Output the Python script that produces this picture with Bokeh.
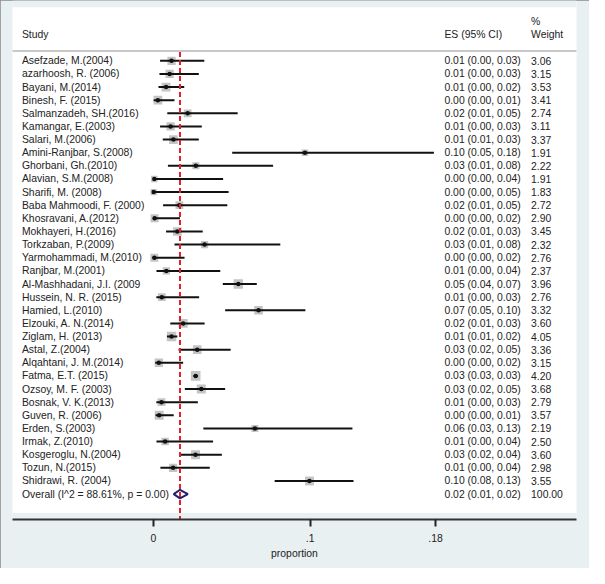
import numpy as np
from bokeh.plotting import figure
from bokeh.models import ColumnDataSource, Range1d, FixedTicker
from bokeh.core.properties import value
from bokeh.embed import file_html
from bokeh.resources import INLINE

# ---------------- data ----------------
studies = [
    "Asefzade, M.(2004)", "azarhoosh, R. (2006)", "Bayani, M.(2014)", "Binesh, F. (2015)",
    "Salmanzadeh, SH.(2016)", "Kamangar, E.(2003)", "Salari, M.(2006)", "Amini-Ranjbar, S.(2008)",
    "Ghorbani, Gh.(2010)", "Alavian, S.M.(2008)", "Sharifi, M. (2008)", "Baba Mahmoodi, F. (2000)",
    "Khosravani, A.(2012)", "Mokhayeri, H.(2016)", "Torkzaban, P.(2009)", "Yarmohammadi, M.(2010)",
    "Ranjbar, M.(2001)", "Al-Mashhadani, J.I. (2009", "Hussein, N. R. (2015)", "Hamied, L.(2010)",
    "Elzouki, A. N.(2014)", "Ziglam, H. (2013)", "Astal, Z.(2004)", "Alqahtani, J. M.(2014)",
    "Fatma, E.T. (2015)", "Ozsoy, M. F. (2003)", "Bosnak, V. K.(2013)", "Guven, R. (2006)",
    "Erden, S.(2003)", "Irmak, Z.(2010)", "Kosgeroglu, N.(2004)", "Tozun, N.(2015)",
    "Shidrawi, R. (2004)",
]
es = [0.0116, 0.0104, 0.0081, 0.0029, 0.0219, 0.0110, 0.0128, 0.0967, 0.0271, 0.0006,
      0.0002, 0.0166, 0.0008, 0.0153, 0.0327, 0.0006, 0.0083, 0.0542, 0.0054, 0.0671,
      0.0190, 0.0116, 0.0280, 0.0035, 0.0270, 0.0306, 0.0052, 0.0037, 0.0648, 0.0075,
      0.0269, 0.0126, 0.0996]
ci_low = [0.0043, 0.0039, 0.0033, 0.0002, 0.0089, 0.0043, 0.0060, 0.0503, 0.0093, 0.0,
          0.0, 0.0062, 0.0, 0.0081, 0.0135, 0.0, 0.0020, 0.0443, 0.0019, 0.0458,
          0.0108, 0.0087, 0.0161, 0.0012, 0.0255, 0.0201, 0.0019, 0.0014, 0.0319, 0.0020,
          0.0176, 0.0045, 0.0774]
ci_high = [0.0325, 0.0290, 0.0197, 0.0135, 0.0538, 0.0309, 0.0290, 0.1790, 0.0764, 0.0445,
           0.0480, 0.0472, 0.0170, 0.0315, 0.0810, 0.0199, 0.0427, 0.0660, 0.0292, 0.0970,
           0.0327, 0.0153, 0.0493, 0.0190, 0.0285, 0.0458, 0.0284, 0.0130, 0.1270, 0.0381,
           0.0437, 0.0360, 0.1277]
weight = [3.06, 3.15, 3.53, 3.41, 2.74, 3.11, 3.37, 1.91, 2.22, 1.91, 1.83, 2.72, 2.90,
          3.45, 2.32, 2.76, 2.37, 3.96, 2.76, 3.32, 3.60, 4.05, 3.36, 3.15, 4.20, 3.68,
          2.79, 3.57, 2.19, 2.50, 3.60, 2.98, 3.55]
overall_es = 0.017
overall_low = 0.013
overall_high = 0.022
overall_weight = 100.00
i_squared = 88.61
p_het = 0.00
tick_values = [0, 0.1, 0.18]
tick_labels = ["0", ".1", ".18"]
x_title = "proportion"

# ---------------- geometry (reference pixels scaled to the figure) ----------------
W, H = 589, 568
SX, SY = W / 605.0, H / 584.0
B_LEFT = 12
B_RIGHT = 13
B_TOP = 0
B_BOTTOM = 49
FW = W - B_LEFT - B_RIGHT
FH = H - B_TOP - B_BOTTOM
PX_PER_UNIT = (318 - 157) / 0.1 * SX
ZERO_PX = 157 * SX - B_LEFT          # x=0 pixel inside frame
ROW_H = 13.5 * SY
ROW1_PX = 62 * SY                    # first study row, from frame top


def xd(ref_px):
    """reference page x pixel -> data x"""
    return (ref_px * SX - B_LEFT - ZERO_PX) / PX_PER_UNIT


def yd(ref_py):
    """reference page y pixel -> data row"""
    return 1 + (ref_py * SY - ROW1_PX) / ROW_H


BG = "#e8f0f2"
TXT = "#222222"
FONT = value("Liberation Sans")
FS = "10.4px"

p = figure(width=W, height=H, output_backend="svg", toolbar_location=None,
           x_range=Range1d(-ZERO_PX / PX_PER_UNIT, (FW - ZERO_PX) / PX_PER_UNIT),
           y_range=Range1d(1 + (FH - ROW1_PX) / ROW_H, 1 - ROW1_PX / ROW_H),
           y_axis_location=None, tools="",
           min_border_left=B_LEFT, min_border_right=B_RIGHT,
           min_border_top=B_TOP, min_border_bottom=B_BOTTOM)
p.background_fill_color = BG
p.border_fill_color = BG
p.outline_line_color = None
p.grid.visible = False
p.styles = {"outline": "1px solid #8a8a8a", "outline-offset": "-1px"}

# white panel
p.quad(left=xd(12), right=xd(592), top=yd(7), bottom=yd(527),
       fill_color="white", line_color=None)
# header separator
p.segment(x0=xd(12), x1=xd(592), y0=yd(52), y1=yd(52), line_color="#c8c8c8", line_width=2)

n = len(studies)
rows = np.arange(1, n + 1)
sizes = [4.7 * np.sqrt(w) for w in weight]
es_txt = ["%.2f (%.2f, %.2f)" % (e, l, h) for e, l, h in zip(es, ci_low, ci_high)]
w_txt = ["%.2f" % w for w in weight]

src = ColumnDataSource(dict(row=rows, es=es, lo=ci_low, hi=ci_high, size=sizes,
                            name=studies, es_txt=es_txt, w_txt=w_txt))

p.scatter(x="es", y="row", size="size", marker="square", source=src,
          fill_color="#c4c4c4", line_color=None)
p.segment(x0="lo", x1="hi", y0="row", y1="row", source=src,
          line_color="#111111", line_width=2)
p.scatter(x="es", y="row", size=4.5, marker="circle", source=src,
          fill_color="#111111", line_color=None)

# overall diamond
orow = n + 1
dh = 0.33
p.patch(x=[overall_low, overall_es, overall_high, overall_es, overall_low],
        y=[orow, orow - dh, orow, orow + dh, orow],
        fill_color=None, line_color="#1f1f6e", line_width=2)

# reference line at overall estimate
p.segment(x0=overall_es, x1=overall_es, y0=yd(53), y1=yd(540),
          line_color="#e0222a", line_width=2, line_dash="5 3")

# text columns
tx_name = xd(22)
tx_es = xd(456)
tx_w = xd(545)
p.text(x=tx_name, y="row", text="name", source=src, text_font=FONT, text_font_size=FS,
       text_baseline="middle", text_align="left", text_color=TXT)
p.text(x=tx_es, y="row", text="es_txt", source=src, text_font=FONT, text_font_size=FS,
       text_baseline="middle", text_align="left", text_color=TXT)
p.text(x=tx_w, y="row", text="w_txt", source=src, text_font=FONT, text_font_size=FS,
       text_baseline="middle", text_align="left", text_color=TXT)

overall_label = "Overall  (I^2 = %.2f%%, p = %.2f)" % (i_squared, p_het)
overall_es_txt = "%.2f (%.2f, %.2f)" % (overall_es, overall_low, overall_high)
p.text(x=[tx_name, tx_es, tx_w], y=[orow] * 3,
       text=[overall_label, overall_es_txt, "%.2f" % overall_weight],
       text_font=FONT, text_font_size=FS, text_baseline="middle", text_align="left",
       text_color=TXT)

# header
p.text(x=[tx_name, tx_es, tx_w, tx_w], y=[yd(35), yd(35), yd(35), yd(22)],
       text=["Study", "ES (95% CI)", "Weight", "%"],
       text_font=FONT, text_font_size=FS, text_baseline="middle", text_align="left",
       text_color=TXT)

# x axis
ax = p.xaxis[0]
ax.ticker = FixedTicker(ticks=tick_values)
ax.major_label_overrides = {t: l for t, l in zip(tick_values, tick_labels)}
ax.axis_label = x_title
ax.axis_line_color = "#333333"
ax.axis_line_width = 2
ax.major_tick_line_color = "#222222"
ax.major_tick_line_width = 2
ax.major_tick_out = 7
ax.major_tick_in = 0
ax.minor_tick_line_color = None
ax.major_label_standoff = 7
ax.major_label_text_font = "Liberation Sans"
ax.major_label_text_font_size = FS
ax.major_label_text_color = TXT
ax.axis_label_text_font = "Liberation Sans"
ax.axis_label_text_font_size = FS
ax.axis_label_text_font_style = "normal"
ax.axis_label_text_color = TXT
ax.axis_label_standoff = 3

open("out.html", "w").write(file_html(p, INLINE))
